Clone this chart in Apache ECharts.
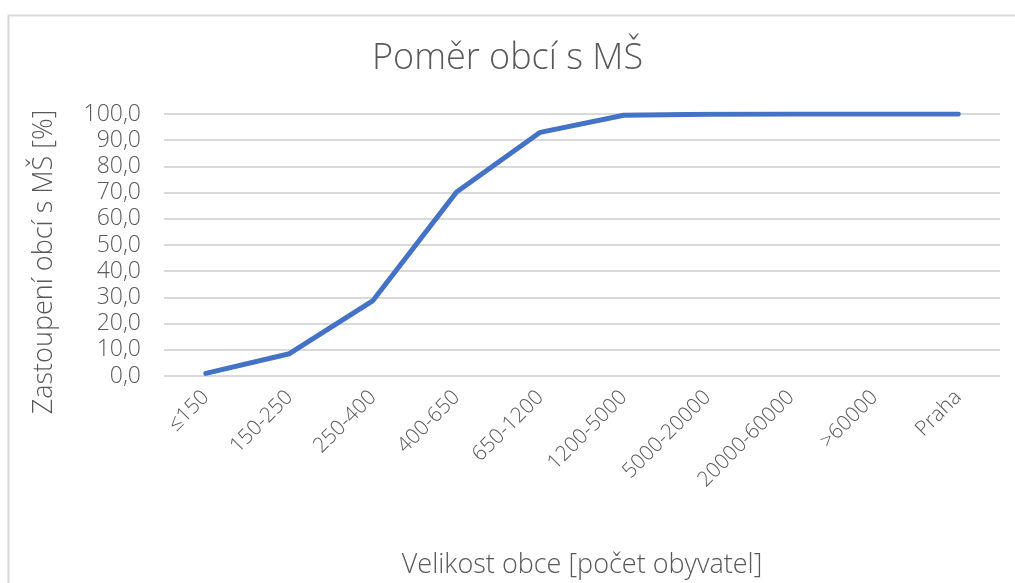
<!DOCTYPE html>
<html>
<head>
<meta charset="utf-8">
<script src="https://cdn.jsdelivr.net/npm/echarts@6/dist/echarts.min.js"></script>
<style>
  html, body { margin: 0; padding: 0; background: #fff; }
  #chart { width: 1015px; height: 583px; }
</style>
</head>
<body>
<div id="chart"></div>
<script>
// data
const categories = ["≤150", "150-250", "250-400", "400-650", "650-1200", "1200-5000", "5000-20000", "20000-60000", ">60000", "Praha"];
const shareValues = [1.0, 8.5, 28.8, 70.2, 93.0, 99.5, 99.9, 100.0, 100.0, 100.0];

const textColor = "#595959";
const fontFamily = "'Open Sans', 'Noto Sans', sans-serif";

const chart = echarts.init(document.getElementById("chart"));
chart.setOption({
    animation: false,
    textStyle: { fontFamily: fontFamily, color: textColor },
    title: {
        text: "Poměr obcí s MŠ",
        left: "center",
        top: 36,
        textStyle: { fontSize: 36, fontWeight: 300, color: textColor, fontFamily: fontFamily }
    },
    graphic: [{
        type: "rect",
        shape: { x: 8.5, y: 15.5, width: 1100, height: 700 },
        style: { fill: "none", stroke: "#d9d9d9", lineWidth: 2 },
        silent: true
    }],
    grid: { left: 164, right: 15, top: 114, bottom: 207, containLabel: false },
    xAxis: {
        type: "category",
        data: categories,
        boundaryGap: true,
        name: "Velikost obce [počet obyvatel]",
        nameLocation: "middle",
        nameGap: 176,
        nameTextStyle: { fontSize: 27, fontWeight: 300, color: textColor, fontFamily: fontFamily },
        axisLine: { show: false },
        axisTick: { show: false },
        axisLabel: { rotate: 45, fontSize: 21, fontWeight: 300, color: textColor, margin: 18, interval: 0 }
    },
    yAxis: {
        type: "value",
        min: 0,
        max: 100,
        interval: 10,
        name: "Zastoupení obcí s MŠ [%]",
        nameLocation: "middle",
        nameRotate: 90,
        nameGap: 106,
        nameTextStyle: { fontSize: 27, fontWeight: 300, color: textColor, fontFamily: fontFamily, padding: [0, 34, 0, 0] },
        axisLine: { show: false },
        axisTick: { show: false },
        axisLabel: {
            fontSize: 23,
            fontWeight: 300,
            color: textColor,
            margin: 23,
            formatter: v => v.toFixed(1).replace(".", ",")
        },
        splitLine: { lineStyle: { color: "#d9d9d9", width: 2 } }
    },
    series: [{
        type: "line",
        data: shareValues,
        showSymbol: false,
        lineStyle: { color: "#4472c4", width: 5, cap: "round", join: "round" },
        itemStyle: { color: "#4472c4" }
    }]
});
</script>
</body>
</html>
